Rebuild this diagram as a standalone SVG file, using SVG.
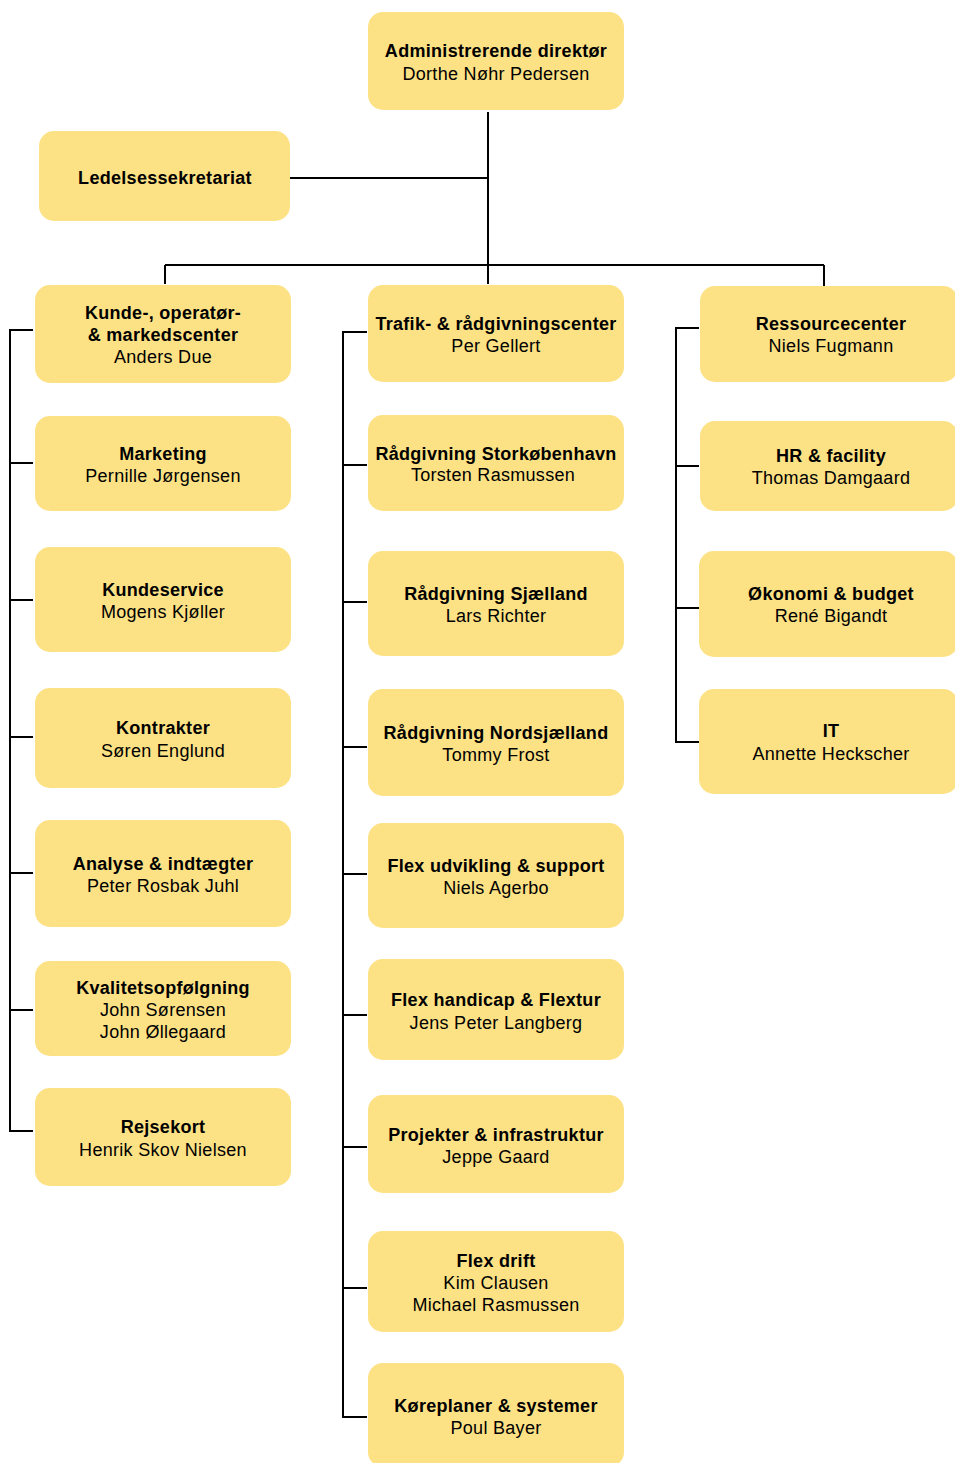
<svg xmlns="http://www.w3.org/2000/svg" width="955" height="1463" viewBox="0 0 955 1463">
<style>
.box{fill:#FCE285;}
.t{font-family:"Liberation Sans",Arial,sans-serif;font-size:18px;fill:#000;text-anchor:middle;letter-spacing:0.3px;}
.b{font-weight:bold;}
.c{fill:none;stroke:#000;stroke-width:2;}
</style>
<rect width="955" height="1463" fill="#fff"/>
<g id="connectors">
<path class="c" d="M488,112 V265 M290,178 H488 M165,265 H824 M165,265 V284 M488,265 V284 M824,265 V286"/>
<path class="c" d="M33,330 H10 V1131 H33 M10,463 H33 M10,600 H33 M10,737 H33 M10,873 H33 M10,1010 H33"/>
<path class="c" d="M367,332 H343 V1417 H367 M343,465 H367 M343,602 H367 M343,747 H367 M343,874 H367 M343,1015 H367 M343,1147 H367 M343,1288 H367"/>
<path class="c" d="M699,328 H676 V742 H699 M676,466 H699 M676,608 H699"/>
</g>
<g id="n-admin"><rect class="box" x="368" y="12" width="256" height="98" rx="15"/><text class="t b" x="496" y="57">Administrerende direktør</text><text class="t" x="496" y="80">Dorthe Nøhr Pedersen</text></g>
<g id="n-ledelse"><rect class="box" x="39" y="131" width="251" height="90" rx="15"/><text class="t b" x="165" y="184">Ledelsessekretariat</text></g>

<g id="n-kunde"><rect class="box" x="35" y="285" width="256" height="98" rx="15"/><text class="t b" x="163" y="319">Kunde-, operatør-</text><text class="t b" x="163" y="341">&amp; markedscenter</text><text class="t" x="163" y="363">Anders Due</text></g>
<g id="n-marketing"><rect class="box" x="35" y="416" width="256" height="95" rx="15"/><text class="t b" x="163" y="460">Marketing</text><text class="t" x="163" y="482">Pernille Jørgensen</text></g>
<g id="n-kundeservice"><rect class="box" x="35" y="547" width="256" height="105" rx="15"/><text class="t b" x="163" y="596">Kundeservice</text><text class="t" x="163" y="618">Mogens Kjøller</text></g>
<g id="n-kontrakter"><rect class="box" x="35" y="688" width="256" height="100" rx="15"/><text class="t b" x="163" y="734">Kontrakter</text><text class="t" x="163" y="757">Søren Englund</text></g>
<g id="n-analyse"><rect class="box" x="35" y="820" width="256" height="107" rx="15"/><text class="t b" x="163" y="870">Analyse &amp; indtægter</text><text class="t" x="163" y="892">Peter Rosbak Juhl</text></g>
<g id="n-kvalitet"><rect class="box" x="35" y="961" width="256" height="95" rx="15"/><text class="t b" x="163" y="994">Kvalitetsopfølgning</text><text class="t" x="163" y="1016">John Sørensen</text><text class="t" x="163" y="1038">John Øllegaard</text></g>
<g id="n-rejsekort"><rect class="box" x="35" y="1088" width="256" height="98" rx="15"/><text class="t b" x="163" y="1133">Rejsekort</text><text class="t" x="163" y="1156">Henrik Skov Nielsen</text></g>

<g id="n-trafik"><rect class="box" x="368" y="285" width="256" height="97" rx="15"/><text class="t b" x="496" y="330">Trafik- &amp; rådgivningscenter</text><text class="t" x="496" y="352">Per Gellert</text></g>
<g id="n-storkbh"><rect class="box" x="368" y="415" width="256" height="96" rx="15"/><text class="t b" x="496" y="460">Rådgivning Storkøbenhavn</text><text class="t" x="493" y="481">Torsten Rasmussen</text></g>
<g id="n-sjaelland"><rect class="box" x="368" y="551" width="256" height="105" rx="15"/><text class="t b" x="496" y="600">Rådgivning Sjælland</text><text class="t" x="496" y="622">Lars Richter</text></g>
<g id="n-nordsj"><rect class="box" x="368" y="689" width="256" height="107" rx="15"/><text class="t b" x="496" y="739">Rådgivning Nordsjælland</text><text class="t" x="496" y="761">Tommy Frost</text></g>
<g id="n-flexudv"><rect class="box" x="368" y="823" width="256" height="105" rx="15"/><text class="t b" x="496" y="872">Flex udvikling &amp; support</text><text class="t" x="496" y="894">Niels Agerbo</text></g>
<g id="n-flexhandicap"><rect class="box" x="368" y="959" width="256" height="101" rx="15"/><text class="t b" x="496" y="1006">Flex handicap &amp; Flextur</text><text class="t" x="496" y="1029">Jens Peter Langberg</text></g>
<g id="n-projekter"><rect class="box" x="368" y="1095" width="256" height="98" rx="15"/><text class="t b" x="496" y="1141">Projekter &amp; infrastruktur</text><text class="t" x="496" y="1163">Jeppe Gaard</text></g>
<g id="n-flexdrift"><rect class="box" x="368" y="1231" width="256" height="101" rx="15"/><text class="t b" x="496" y="1267">Flex drift</text><text class="t" x="496" y="1289">Kim Clausen</text><text class="t" x="496" y="1311">Michael Rasmussen</text></g>
<g id="n-koreplaner"><rect class="box" x="368" y="1363" width="256" height="104" rx="15"/><text class="t b" x="496" y="1412">Køreplaner &amp; systemer</text><text class="t" x="496" y="1434">Poul Bayer</text></g>

<g id="n-ressource"><rect class="box" x="700" y="286" width="258" height="96" rx="15"/><text class="t b" x="831" y="330">Ressourcecenter</text><text class="t" x="831" y="352">Niels Fugmann</text></g>
<g id="n-hr"><rect class="box" x="700" y="421" width="258" height="90" rx="15"/><text class="t b" x="831" y="462">HR &amp; facility</text><text class="t" x="831" y="484">Thomas Damgaard</text></g>
<g id="n-okonomi"><rect class="box" x="699" y="551" width="259" height="106" rx="15"/><text class="t b" x="831" y="600">Økonomi &amp; budget</text><text class="t" x="831" y="622">René Bigandt</text></g>
<g id="n-it"><rect class="box" x="699" y="689" width="259" height="105" rx="15"/><text class="t b" x="831" y="737">IT</text><text class="t" x="831" y="760">Annette Heckscher</text></g>
</svg>
